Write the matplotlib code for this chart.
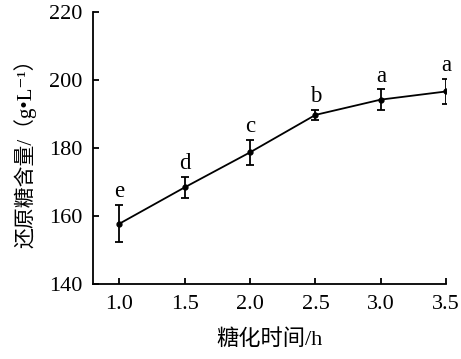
import matplotlib
matplotlib.use('Agg')
import matplotlib.pyplot as plt

plt.rcParams['font.family'] = ['Liberation Serif', 'Noto Sans CJK SC', 'DejaVu Serif']

time_h = [1.0, 1.5, 2.0, 2.5, 3.0, 3.5]
sugar = [157.7, 168.4, 178.7, 189.7, 194.2, 196.6]
err = [5.5, 3.0, 3.7, 1.5, 3.0, 3.6]
letters = ['e', 'd', 'c', 'b', 'a', 'a']

fig = plt.figure(figsize=(4.61, 3.59), dpi=100)
ax = fig.add_axes([0.202, 0.209, 0.766, 0.758])

ax.errorbar(time_h, sugar, yerr=err, color='black', lw=1.3, marker='o', ms=3.5,
            capsize=3, elinewidth=1.3, capthick=1.3)
for x, y, e, s in zip(time_h, sugar, err, letters):
    ax.text(x, y + e + 0.8, s, ha='center', va='bottom', fontsize=16.5)

ax.set_xlim(0.8, 3.5)
ax.set_ylim(140, 220)
ax.set_xticks(time_h)
ax.set_xticklabels(['%.1f' % t for t in time_h])
ax.set_yticks([140, 160, 180, 200, 220])
ax.spines['top'].set_visible(False)
ax.spines['right'].set_visible(False)
for sp in ('left', 'bottom'):
    ax.spines[sp].set_linewidth(1.3)
ax.tick_params(direction='in', length=4, width=1.3, labelsize=16, pad=8)

ax.set_xlabel('糖化时间/h', fontsize=16, labelpad=11)
ax.set_ylabel('还原糖含量/（g•L⁻¹）', fontsize=15, labelpad=9)

fig.savefig('out.png', dpi=100)
